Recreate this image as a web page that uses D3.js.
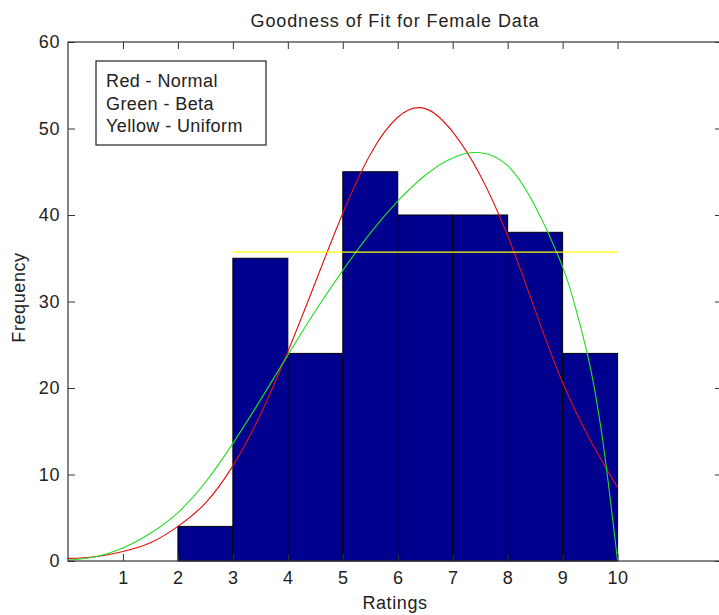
<!DOCTYPE html>
<html>
<head>
<meta charset="utf-8">
<script src="https://cdn.jsdelivr.net/npm/d3@7"></script>
<style>
  html, body { margin: 0; padding: 0; background: #fff; }
  svg { display: block; font-family: "Liberation Sans", Arial, sans-serif; }
  .tick text { font-size: 18px; fill: #222; letter-spacing: 0.6px; }
</style>
</head>
<body>
<svg id="chart" width="719" height="615"></svg>
<script>
// ---- data ----
const binStarts = [0, 1, 2, 3, 4, 5, 6, 7, 8, 9];
const binCounts = [0, 0, 4, 35, 24, 45, 40, 40, 38, 24];
const binWidth = 1;

const normalX = [0, 0.5, 1, 1.5, 2, 2.5, 3, 3.5, 4, 4.5, 5, 5.5, 6, 6.5, 7, 7.5, 8, 8.5, 9, 9.5, 10];
const normalY = [0.3, 0.5, 1.1, 2.1, 4.0, 6.7, 11.0, 16.9, 24.2, 32.2, 40.2, 47.0, 51.3, 52.3, 49.6, 44.6, 37.6, 29.0, 20.6, 14.0, 8.5];

const betaX = [0, 0.5, 1, 1.5, 2, 2.5, 3, 3.5, 4, 4.5, 5, 5.5, 6, 6.5, 7, 7.5, 8, 8.5, 9, 9.25, 9.5, 9.75, 10];
const betaY = [0.1, 0.5, 1.5, 3.2, 5.6, 9.1, 13.6, 18.6, 23.8, 28.9, 33.6, 37.9, 41.6, 44.6, 46.6, 47.2, 45.7, 41.0, 34.0, 28.9, 22.5, 13.0, 0];

const uniformX = [3, 10];
const uniformY = [35.7, 35.7];

const xTicks = [1, 2, 3, 4, 5, 6, 7, 8, 9, 10];
const yTicks = [0, 10, 20, 30, 40, 50, 60];
const legendLines = ["Red - Normal", "Green - Beta", "Yellow - Uniform"];
const titleText = "Goodness of Fit for Female Data";
const xLabel = "Ratings";
const yLabel = "Frequency";

// ---- layout ----
const L = 68, R = 722, T = 42, B = 561;
const svg = d3.select("#chart");

const x = d3.scaleLinear().domain([0, 11.9]).range([L, R]);
const y = d3.scaleLinear().domain([0, 60]).range([B, T]);

// bars
svg.append("g").selectAll("rect")
  .data(binStarts.map((s, i) => ({ s, c: binCounts[i] })).filter(d => d.c > 0))
  .join("rect")
  .attr("x", d => x(d.s))
  .attr("y", d => y(d.c))
  .attr("width", d => x(d.s + binWidth) - x(d.s))
  .attr("height", d => y(0) - y(d.c))
  .attr("fill", "#00008f")
  .attr("stroke", "#000")
  .attr("stroke-width", 1);

const line = d3.line().x(d => x(d[0])).y(d => y(d[1])).curve(d3.curveNatural);

svg.append("path")
  .attr("d", line(normalX.map((v, i) => [v, normalY[i]])))
  .attr("fill", "none").attr("stroke", "#e01010").attr("stroke-width", 1.1);

svg.append("path")
  .attr("d", line(betaX.map((v, i) => [v, betaY[i]])))
  .attr("fill", "none").attr("stroke", "#22dd22").attr("stroke-width", 1.1);

svg.append("path")
  .attr("d", d3.line().x(d => x(d[0])).y(d => y(d[1])).curve(d3.curveLinear)(uniformX.map((v, i) => [v, uniformY[i]])))
  .attr("fill", "none").attr("stroke", "#ffff00").attr("stroke-width", 1.3);

// axes
const tk = 7;
const gB = svg.append("g").attr("transform", `translate(0,${B})`)
  .call(d3.axisBottom(x).tickValues(xTicks).tickSize(-tk).tickPadding(10).tickSizeOuter(0));
const gT = svg.append("g").attr("transform", `translate(0,${T})`)
  .call(d3.axisTop(x).tickValues(xTicks).tickSize(-tk).tickFormat("").tickSizeOuter(0));
const gL = svg.append("g").attr("transform", `translate(${L},0)`)
  .call(d3.axisLeft(y).tickValues(yTicks).tickSize(-tk).tickPadding(8).tickSizeOuter(0));
const gR = svg.append("g").attr("transform", `translate(${R},0)`)
  .call(d3.axisRight(y).tickValues(yTicks).tickSize(-tk).tickFormat("").tickSizeOuter(0));
[gB, gT, gL, gR].forEach(g => {
  g.select(".domain").remove();
  g.selectAll(".tick line").attr("stroke", "#333");
});
gB.selectAll(".tick text").attr("dy", "0.71em");

// box
svg.append("rect").attr("x", L).attr("y", T).attr("width", R - L).attr("height", B - T)
  .attr("fill", "none").attr("stroke", "#333").attr("stroke-width", 1.2);

// title & labels
svg.append("text").attr("x", (L + R) / 2).attr("y", 27).attr("text-anchor", "middle")
  .attr("font-size", 18).attr("fill", "#222").attr("letter-spacing", 0.9).text(titleText);
svg.append("text").attr("x", (L + R) / 2).attr("y", 609).attr("text-anchor", "middle")
  .attr("font-size", 18).attr("fill", "#222").attr("letter-spacing", 0.6).text(xLabel);
svg.append("text").attr("transform", `translate(25,${(T + B) / 2 - 4}) rotate(-90)`).attr("text-anchor", "middle")
  .attr("font-size", 18).attr("fill", "#222").attr("letter-spacing", 0.6).text(yLabel);

// legend box
svg.append("rect").attr("x", 96).attr("y", 61).attr("width", 170).attr("height", 84)
  .attr("fill", "#fff").attr("stroke", "#222").attr("stroke-width", 1.2);
svg.append("g").selectAll("text").data(legendLines).join("text")
  .attr("x", 106).attr("y", (d, i) => 87 + i * 22.5)
  .attr("font-size", 18).attr("fill", "#222").attr("letter-spacing", 0.4)
  .text(d => d);
</script>
</body>
</html>
